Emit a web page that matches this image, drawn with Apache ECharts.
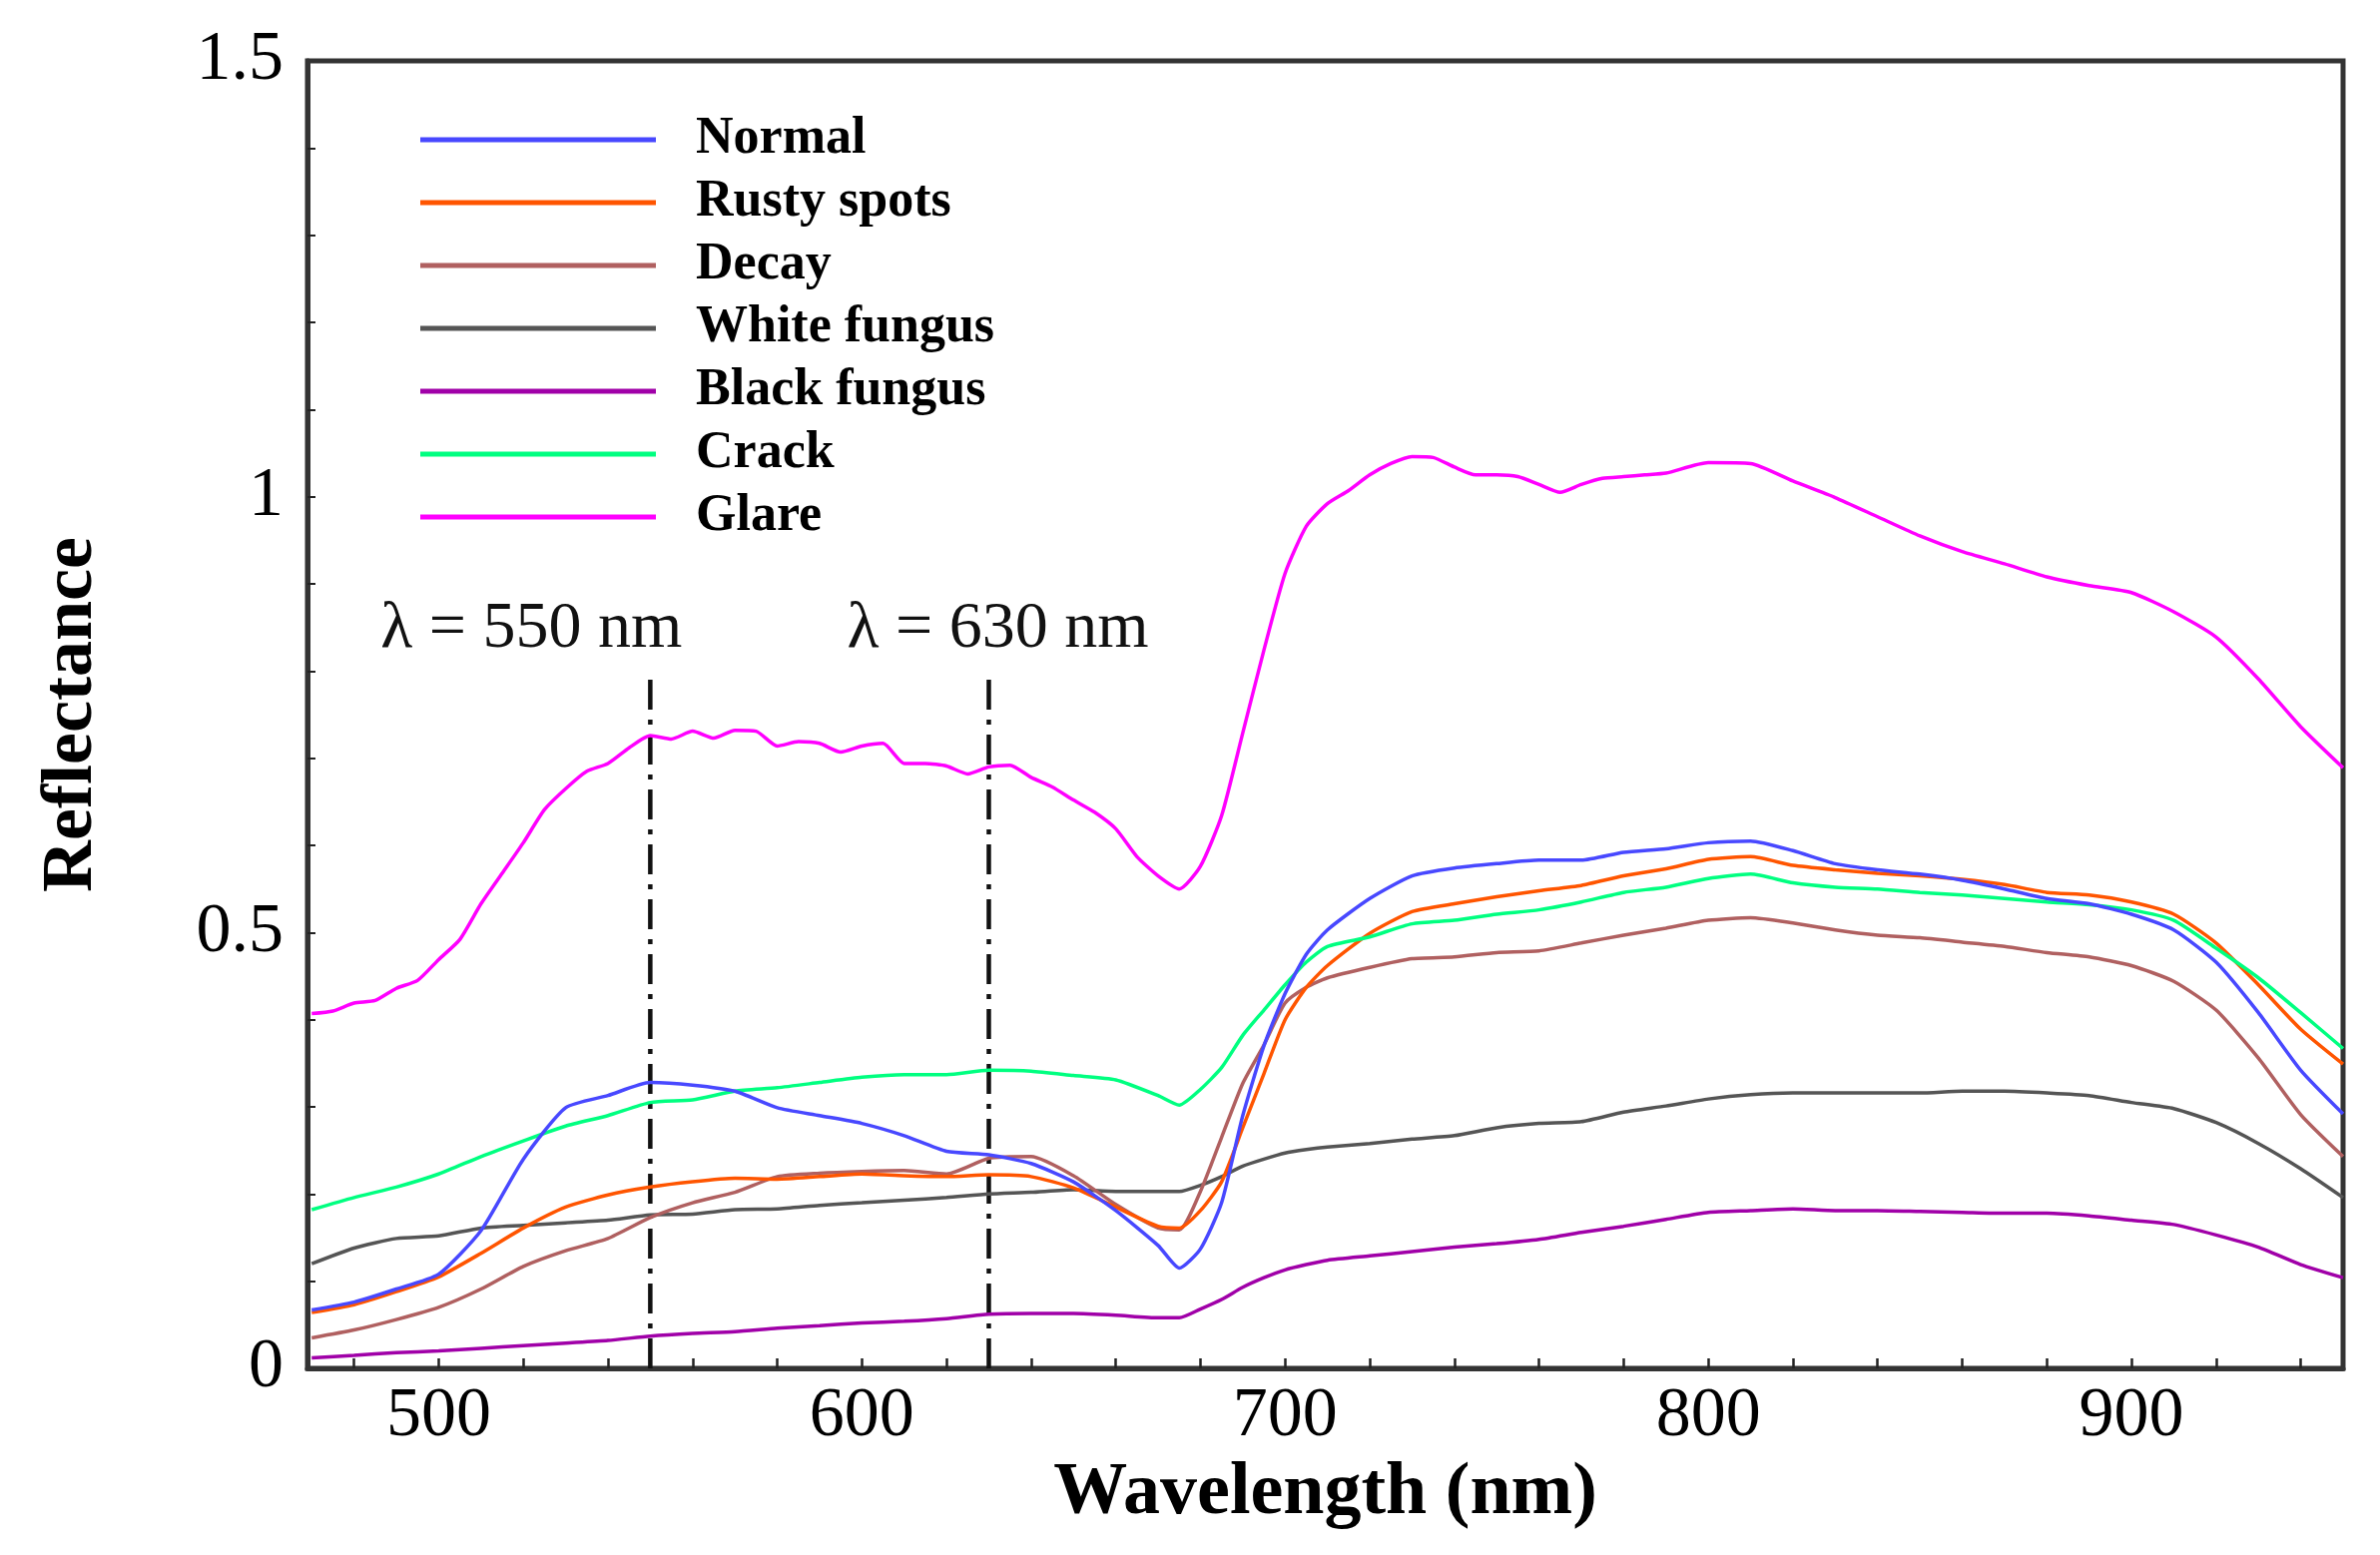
<!DOCTYPE html>
<html>
<head>
<meta charset="utf-8">
<script src="https://cdn.jsdelivr.net/npm/echarts@6/dist/echarts.min.js"></script>
<style>
    html, body { margin: 0; padding: 0; background: #fff; }
    #container { width: 2384px; height: 1558px; }
</style>
</head>
<body>
<div id="container"></div>
<script>
// wavelength samples (nm) shared by the six lower curves
const wavelengths = [470, 480, 490, 500, 510, 520, 530, 540, 550, 560, 570, 580, 590, 600, 610, 620, 630, 640, 650, 660, 670,
    675, 680, 685, 690, 695, 700, 705, 710,
    720, 730, 740, 750, 760, 770, 780, 790, 800, 810, 820, 830, 840, 850, 860, 870, 880, 890, 900, 910, 920, 930, 940, 950];

const normal = [0.067, 0.076, 0.091, 0.108, 0.158, 0.240, 0.299, 0.313, 0.328, 0.325, 0.318, 0.299, 0.290, 0.281, 0.267, 0.249, 0.245, 0.235, 0.214, 0.181, 0.141,
    0.115, 0.137, 0.190, 0.290, 0.370, 0.430, 0.475, 0.503,
    0.539, 0.565, 0.574, 0.579, 0.583, 0.583, 0.592, 0.596, 0.603, 0.605, 0.594, 0.579, 0.572, 0.567, 0.560, 0.550, 0.539, 0.533, 0.521, 0.503, 0.466, 0.408, 0.342, 0.292];

const rustySpots = [0.064, 0.073, 0.088, 0.105, 0.132, 0.161, 0.185, 0.199, 0.208, 0.214, 0.218, 0.217, 0.220, 0.223, 0.221, 0.220, 0.222, 0.220, 0.207, 0.185, 0.163,
    0.161, 0.181, 0.214, 0.276, 0.338, 0.400, 0.437, 0.462,
    0.499, 0.524, 0.533, 0.541, 0.548, 0.554, 0.565, 0.573, 0.584, 0.587, 0.577, 0.572, 0.568, 0.565, 0.561, 0.555, 0.546, 0.543, 0.535, 0.521, 0.488, 0.440, 0.389, 0.349];

const decay = [0.035, 0.044, 0.056, 0.070, 0.091, 0.117, 0.135, 0.149, 0.173, 0.190, 0.202, 0.220, 0.224, 0.226, 0.227, 0.223, 0.241, 0.243, 0.221, 0.188, 0.161,
    0.159, 0.203, 0.265, 0.327, 0.371, 0.419, 0.437, 0.448,
    0.460, 0.470, 0.472, 0.477, 0.479, 0.488, 0.497, 0.505, 0.514, 0.517, 0.511, 0.503, 0.497, 0.494, 0.489, 0.484, 0.477, 0.472, 0.462, 0.444, 0.411, 0.356, 0.291, 0.243];

const whiteFungus = [0.120, 0.138, 0.149, 0.152, 0.161, 0.164, 0.167, 0.170, 0.176, 0.177, 0.182, 0.183, 0.187, 0.190, 0.193, 0.196, 0.200, 0.202, 0.205, 0.203, 0.203,
    0.203, 0.210, 0.220, 0.232, 0.240, 0.247, 0.251, 0.254,
    0.258, 0.263, 0.267, 0.276, 0.281, 0.283, 0.294, 0.301, 0.309, 0.314, 0.316, 0.316, 0.316, 0.316, 0.318, 0.318, 0.316, 0.313, 0.305, 0.298, 0.282, 0.258, 0.229, 0.196];

const blackFungus = [0.012, 0.015, 0.018, 0.020, 0.023, 0.026, 0.029, 0.032, 0.037, 0.040, 0.042, 0.046, 0.049, 0.052, 0.054, 0.057, 0.062, 0.063, 0.063, 0.061, 0.058,
    0.058, 0.068, 0.079, 0.093, 0.104, 0.113, 0.119, 0.124,
    0.129, 0.134, 0.139, 0.143, 0.148, 0.156, 0.163, 0.171, 0.179, 0.181, 0.183, 0.181, 0.181, 0.180, 0.179, 0.178, 0.178, 0.175, 0.170, 0.165, 0.153, 0.139, 0.119, 0.104];

const crack = [0.182, 0.196, 0.208, 0.223, 0.243, 0.261, 0.278, 0.290, 0.305, 0.308, 0.318, 0.322, 0.328, 0.334, 0.337, 0.337, 0.342, 0.341, 0.336, 0.331, 0.313,
    0.302, 0.320, 0.345, 0.382, 0.411, 0.440, 0.466, 0.484,
    0.495, 0.510, 0.514, 0.521, 0.526, 0.535, 0.546, 0.552, 0.562, 0.567, 0.557, 0.552, 0.550, 0.546, 0.543, 0.539, 0.535, 0.532, 0.526, 0.514, 0.482, 0.448, 0.408, 0.367];

// glare has its own, denser sampling to keep the ripples
const glareWavelengths = [470, 475, 480, 485, 490, 495, 500, 505, 510, 515, 520, 525, 530, 535, 540, 545, 550, 555, 560, 565,
    570, 575, 580, 585, 590, 595, 600, 605, 610, 615, 620, 625, 630, 635, 640, 645, 650, 655, 660, 665,
    670, 675, 680, 685, 690, 695, 700, 705, 710, 715, 720, 725, 730, 735, 740, 745, 750, 755, 760, 765,
    770, 775, 780, 785, 790, 800, 810, 820, 830, 840, 850, 860, 870, 880, 890, 900, 910, 920, 930, 940, 950];

const glare = [0.407, 0.410, 0.419, 0.422, 0.436, 0.445, 0.469, 0.492, 0.533, 0.568, 0.603, 0.641, 0.665, 0.685, 0.694, 0.712, 0.726, 0.722, 0.731, 0.723,
    0.732, 0.731, 0.714, 0.719, 0.717, 0.707, 0.714, 0.717, 0.694, 0.694, 0.691, 0.682, 0.690, 0.692, 0.678, 0.667, 0.652, 0.638, 0.619, 0.587,
    0.565, 0.550, 0.576, 0.634, 0.729, 0.824, 0.912, 0.966, 0.992, 1.007, 1.025, 1.038, 1.046, 1.045, 1.034, 1.025, 1.025, 1.023, 1.014, 1.005,
    1.014, 1.021, 1.023, 1.025, 1.027, 1.039, 1.038, 1.018, 0.999, 0.977, 0.955, 0.937, 0.923, 0.908, 0.898, 0.890, 0.868, 0.839, 0.791, 0.736, 0.689];

const markerWavelengths = [550, 630];
const markerTop = 0.795;

const xTickValues = [480, 500, 520, 540, 560, 580, 600, 620, 640, 660, 680, 700, 720, 740, 760, 780, 800, 820, 840, 860, 880, 900, 920, 940];
const xLabelValues = [500, 600, 700, 800, 900];
const yTickValues = [0.1, 0.2, 0.3, 0.4, 0.5, 0.6, 0.7, 0.8, 0.9, 1.0, 1.1, 1.2, 1.3, 1.4];
const yLabelValues = [0, 0.5, 1, 1.5];

const FONT = 'Liberation Serif';

let dom = document.getElementById('container');
let myChart = echarts.init(dom, null, { renderer: 'canvas' });

function pairs(xs, ys) {
    return xs.map((x, i) => [x, ys[i]]);
}

function curve(name, color, xs, ys) {
    return {
        name: name,
        type: 'line',
        data: pairs(xs, ys),
        symbol: 'none',
        smooth: 0.2,
        color: color,
        lineStyle: { color: color, width: 3.5 },
        z: 3
    };
}

function marker(x, dx) {
    return {
        name: 'marker-' + x,
        type: 'line',
        data: [[x, 0], [x, markerTop]],
        symbol: 'none',
        silent: true,
        lineStyle: { color: '#111', width: 4.5, type: [30, 10, 5, 10] },
        endLabel: {
            show: true,
            formatter: 'λ = ' + x + ' nm',
            fontFamily: FONT,
            fontSize: 66,
            color: '#111',
            offset: [dx, -46],
            align: 'center'
        },
        z: 2
    };
}

let option = {
    animation: false,
    backgroundColor: '#fff',
    grid: {
        left: 308,
        right: 37,
        top: 61,
        bottom: 187,
        show: true,
        borderColor: '#333',
        borderWidth: 5
    },
    legend: {
        data: ['Normal', 'Rusty spots', 'Decay', 'White fungus', 'Black fungus', 'Crack', 'Glare'],
        orient: 'vertical',
        left: 416,
        top: 109,
        icon: 'rect',
        itemWidth: 236,
        itemHeight: 5,
        itemGap: 11,
        textStyle: {
            fontFamily: FONT,
            fontWeight: 'bold',
            fontSize: 52,
            lineHeight: 50,
            color: '#000',
            padding: [0, 0, 0, 35]
        }
    },
    xAxis: {
        type: 'value',
        min: 469,
        max: 950,
        name: 'Wavelength (nm)',
        nameLocation: 'middle',
        nameGap: 86,
        nameTextStyle: { fontFamily: FONT, fontWeight: 'bold', fontSize: 74, color: '#000' },
        axisLine: { show: true, lineStyle: { color: '#333', width: 5 } },
        axisTick: { show: true, inside: true, length: 10, customValues: xTickValues, lineStyle: { color: '#222', width: 2.5 } },
        axisLabel: { customValues: xLabelValues, fontFamily: FONT, fontSize: 70, color: '#000', margin: 14 },
        splitLine: { show: false }
    },
    yAxis: {
        type: 'value',
        min: 0,
        max: 1.5,
        name: 'Reflectance',
        nameLocation: 'middle',
        nameGap: 200,
        nameTextStyle: { fontFamily: FONT, fontWeight: 'bold', fontSize: 72, color: '#000' },
        axisLine: { show: true, lineStyle: { color: '#333', width: 5 } },
        axisTick: { show: true, inside: true, length: 8, customValues: yTickValues, lineStyle: { color: '#222', width: 2 } },
        axisLabel: { customValues: yLabelValues, fontFamily: FONT, fontSize: 70, color: '#000', margin: 24 },
        splitLine: { show: false }
    },
    series: [
        marker(markerWavelengths[0], -127),
        marker(markerWavelengths[1], 1),
        curve('White fungus', '#555555', wavelengths, whiteFungus),
        curve('Black fungus', '#a000a8', wavelengths, blackFungus),
        curve('Decay', '#b06060', wavelengths, decay),
        curve('Rusty spots', '#ff5500', wavelengths, rustySpots),
        curve('Crack', '#00ff80', wavelengths, crack),
        curve('Normal', '#4848ff', wavelengths, normal),
        curve('Glare', '#ff00ff', glareWavelengths, glare)
    ]
};
myChart.setOption(option);
</script>
</body>
</html>
